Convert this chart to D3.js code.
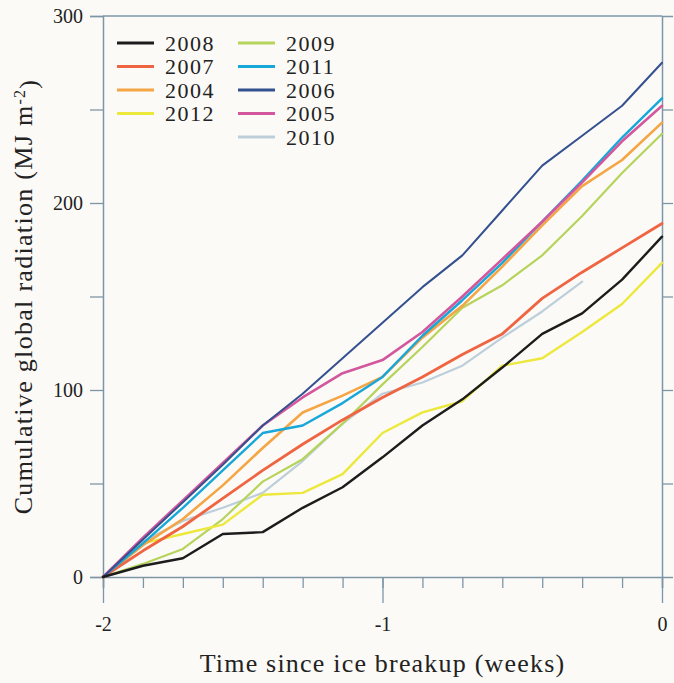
<!DOCTYPE html>
<html>
<head>
<meta charset="utf-8">
<script src="https://cdn.jsdelivr.net/npm/d3@7/dist/d3.min.js"></script>
<style>
  html, body { margin: 0; padding: 0; background: #fcfaf7; }
  svg { display: block; }
  text { font-family: "Liberation Serif", "Times New Roman", serif; fill: #222; }
</style>
</head>
<body>
<svg id="chart" width="674" height="683"></svg>
<script>
// Daily positions over the two weeks before ice breakup (weeks, -2 .. 0)
const days = d3.range(15).map(i => -2 + i / 7);

// Cumulative global radiation (MJ m-2) per year, one value per day
const y2008 = [0, 6, 10, 23, 24, 37, 48, 64, 81, 95, 112, 130, 141, 159, 182];
const y2007 = [0, 14, 27, 42, 57, 71, 84, 96, 107, 119, 130, 149, 163, 176, 189];
const y2004 = [0, 17, 31, 49, 69, 88, 97, 107, 128, 145, 166, 188, 209, 223, 243];
const y2012 = [0, 18, 23, 28, 44, 45, 55, 77, 88, 94, 113, 117, 131, 146, 168];
const y2009 = [0, 7, 15, 31, 51, 63, 82, 103, 123, 144, 156, 172, 193, 216, 237];
const y2011 = [0, 18, 37, 57, 77, 81, 93, 107, 129, 148, 168, 190, 212, 235, 256];
const y2006 = [0, 20, 40, 60, 81, 98, 117, 136, 155, 172, 196, 220, 236, 252, 275];
const y2005 = [0, 21, 41, 61, 81, 96, 109, 116, 131, 150, 170, 190, 211, 233, 252];
const y2010 = [0, 19, 30, 37, 45, 62, 82, 98, 104, 113, 128, 142, 158];

const years  = ["2008", "2007", "2004", "2012", "2009", "2011", "2006", "2005", "2010"];
const values = [y2008, y2007, y2004, y2012, y2009, y2011, y2006, y2005, y2010];
const colors = ["#1c1c1c", "#ef6441", "#f4a544", "#ece83c", "#b6d45c", "#17a7d9", "#33508f", "#d2579c", "#bccfda"];
const widths = [2.4, 2.8, 2.6, 2.4, 2.2, 2.4, 2.0, 2.6, 2.2];

const xTicksMajor = [-2, -1, 0];
const yTicksMajor = [0, 100, 200, 300];
const yTicksMinor = [50, 150, 250];
const yTicksRight = [50, 100, 150, 200, 250];

const svg = d3.select("#chart");
const mLeft = 103, mRight = 662, mTop = 16, mBottom = 577;
const axisColor = "#7d96a6";

const x = d3.scaleLinear().domain([-2, 0]).range([mLeft, mRight]);
const y = d3.scaleLinear().domain([0, 300]).range([mBottom, mTop]);

// plain hyphen-minus for negative tick labels
const fmt = d => String(d);

function styleAxis(g) {
  g.select(".domain").attr("stroke", axisColor).attr("stroke-width", 1.5);
  g.selectAll(".tick line").attr("stroke", axisColor).attr("stroke-width", 1.3);
  g.selectAll(".tick text").attr("fill", "#222")
    .style("font-family", "'Liberation Serif', serif").style("font-size", "20px");
}

// frame: top edge
svg.append("line").attr("x1", mLeft).attr("x2", mRight).attr("y1", mTop).attr("y2", mTop)
  .attr("stroke", axisColor).attr("stroke-width", 1.5);

// bottom axis: minor daily ticks, then major week ticks with labels
svg.append("g").attr("transform", `translate(0,${mBottom})`)
  .call(d3.axisBottom(x).tickValues(days).tickSize(11).tickFormat(""))
  .call(styleAxis);
svg.append("g").attr("transform", `translate(0,${mBottom})`)
  .call(d3.axisBottom(x).tickValues(xTicksMajor).tickSize(26).tickPadding(14).tickFormat(fmt))
  .call(styleAxis)
  .call(g => g.select(".domain").remove());

// left axis
svg.append("g").attr("transform", `translate(${mLeft},0)`)
  .call(d3.axisLeft(y).tickValues(yTicksMinor).tickSize(13).tickFormat(""))
  .call(styleAxis);
svg.append("g").attr("transform", `translate(${mLeft},0)`)
  .call(d3.axisLeft(y).tickValues(yTicksMajor).tickSize(13).tickPadding(7).tickFormat(fmt))
  .call(styleAxis)
  .call(g => g.select(".domain").remove());

// right axis (ticks only)
svg.append("g").attr("transform", `translate(${mRight},0)`)
  .call(d3.axisRight(y).tickValues(yTicksRight).tickSize(11).tickFormat(""))
  .call(styleAxis);

// series lines
const line = d3.line().x((d, i) => x(days[i])).y(d => y(d));
const order = [8, 4, 3, 2, 1, 5, 7, 6, 0];
svg.append("g").selectAll("path")
  .data(order)
  .join("path")
  .attr("d", k => line(values[k]))
  .attr("fill", "none")
  .attr("stroke", k => colors[k])
  .attr("stroke-width", k => widths[k])
  .attr("stroke-linejoin", "round")
  .attr("stroke-linecap", "round");

// legend in two columns
const legend = svg.append("g");
const colX = [117, 238];
const rowY = [43, 66.5, 90, 113.5, 137];
years.forEach((yr, k) => {
  const col = k < 4 ? 0 : 1;
  const row = k < 4 ? k : k - 4;
  const gx = colX[col], gy = rowY[row];
  legend.append("line")
    .attr("x1", gx).attr("x2", gx + 37).attr("y1", gy).attr("y2", gy)
    .attr("stroke", colors[k]).attr("stroke-width", 3);
  legend.append("text")
    .attr("x", gx + 48).attr("y", gy).attr("dy", "0.35em")
    .style("font-size", "22px").style("letter-spacing", "1.5px")
    .text(yr);
});

// axis titles
svg.append("text")
  .attr("x", (mLeft + mRight) / 2).attr("y", 663).attr("dy", "0.35em")
  .attr("text-anchor", "middle")
  .style("font-size", "26px").style("letter-spacing", "1.2px")
  .text("Time since ice breakup (weeks)");

const yt = svg.append("text")
  .attr("transform", `translate(23,${(mTop + mBottom) / 2}) rotate(-90)`)
  .attr("text-anchor", "middle").attr("dy", "0.35em")
  .style("font-size", "26px").style("letter-spacing", "1.3px");
yt.append("tspan").text("Cumulative global radiation (MJ m");
yt.append("tspan").attr("dy", "-0.45em").style("font-size", "16px").text("-2");
yt.append("tspan").attr("dy", "0.45em").text(")");
</script>
</body>
</html>
